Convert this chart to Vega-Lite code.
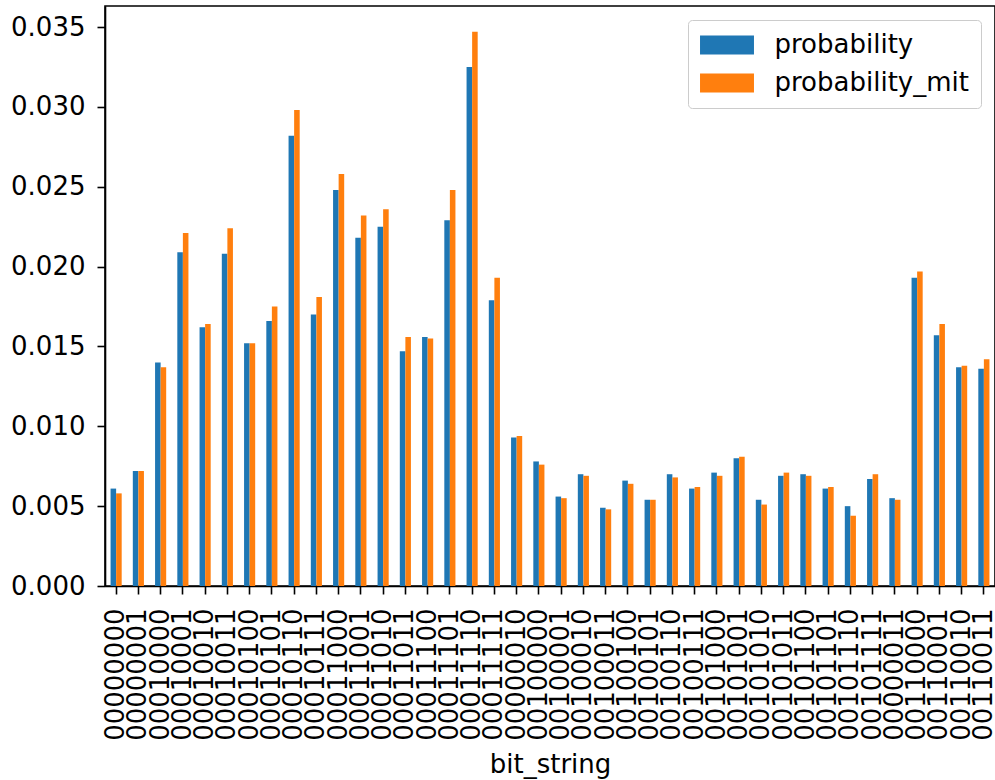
{
  "$schema": "https://vega.github.io/schema/vega-lite/v6.json",
  "autosize": "none",
  "width": 890,
  "height": 580,
  "padding": {"left": 105, "top": 6, "right": 0, "bottom": 194},
  "background": "white",
  "config": {
    "font": "DejaVu Sans",
    "view": {"stroke": "black", "strokeWidth": 1.6},
    "axis": {
      "labelFont": "DejaVu Sans",
      "labelFontSize": 26,
      "labelColor": "black",
      "titleFont": "DejaVu Sans",
      "titleFontSize": 26,
      "titleFontWeight": "normal",
      "titleColor": "black",
      "domainColor": "black",
      "domainWidth": 1.6,
      "tickColor": "black",
      "tickWidth": 1.6,
      "tickSize": 8,
      "grid": false
    }
  },
  "data": {
    "values": [
      {"bit_string": "00000000", "probability": 0.0061, "probability_mit": 0.0058},
      {"bit_string": "00000001", "probability": 0.0072, "probability_mit": 0.0072},
      {"bit_string": "00010000", "probability": 0.0140, "probability_mit": 0.0137},
      {"bit_string": "00010001", "probability": 0.0209, "probability_mit": 0.0221},
      {"bit_string": "00010010", "probability": 0.0162, "probability_mit": 0.0164},
      {"bit_string": "00010011", "probability": 0.0208, "probability_mit": 0.0224},
      {"bit_string": "00010100", "probability": 0.0152, "probability_mit": 0.0152},
      {"bit_string": "00010101", "probability": 0.0166, "probability_mit": 0.0175},
      {"bit_string": "00010110", "probability": 0.0282, "probability_mit": 0.0298},
      {"bit_string": "00010111", "probability": 0.0170, "probability_mit": 0.0181},
      {"bit_string": "00011000", "probability": 0.0248, "probability_mit": 0.0258},
      {"bit_string": "00011001", "probability": 0.0218, "probability_mit": 0.0232},
      {"bit_string": "00011010", "probability": 0.0225, "probability_mit": 0.0236},
      {"bit_string": "00011011", "probability": 0.0147, "probability_mit": 0.0156},
      {"bit_string": "00011100", "probability": 0.0156, "probability_mit": 0.0155},
      {"bit_string": "00011101", "probability": 0.0229, "probability_mit": 0.0248},
      {"bit_string": "00011110", "probability": 0.0325, "probability_mit": 0.0347},
      {"bit_string": "00011111", "probability": 0.0179, "probability_mit": 0.0193},
      {"bit_string": "00000010", "probability": 0.0093, "probability_mit": 0.0094},
      {"bit_string": "00100000", "probability": 0.0078, "probability_mit": 0.0076},
      {"bit_string": "00100001", "probability": 0.0056, "probability_mit": 0.0055},
      {"bit_string": "00100010", "probability": 0.0070, "probability_mit": 0.0069},
      {"bit_string": "00100011", "probability": 0.0049, "probability_mit": 0.0048},
      {"bit_string": "00100100", "probability": 0.0066, "probability_mit": 0.0064},
      {"bit_string": "00100101", "probability": 0.0054, "probability_mit": 0.0054},
      {"bit_string": "00100110", "probability": 0.0070, "probability_mit": 0.0068},
      {"bit_string": "00100111", "probability": 0.0061, "probability_mit": 0.0062},
      {"bit_string": "00101000", "probability": 0.0071, "probability_mit": 0.0069},
      {"bit_string": "00101001", "probability": 0.0080, "probability_mit": 0.0081},
      {"bit_string": "00101010", "probability": 0.0054, "probability_mit": 0.0051},
      {"bit_string": "00101011", "probability": 0.0069, "probability_mit": 0.0071},
      {"bit_string": "00101100", "probability": 0.0070, "probability_mit": 0.0069},
      {"bit_string": "00101101", "probability": 0.0061, "probability_mit": 0.0062},
      {"bit_string": "00101110", "probability": 0.0050, "probability_mit": 0.0044},
      {"bit_string": "00101111", "probability": 0.0067, "probability_mit": 0.0070},
      {"bit_string": "00000011", "probability": 0.0055, "probability_mit": 0.0054},
      {"bit_string": "00110000", "probability": 0.0193, "probability_mit": 0.0197},
      {"bit_string": "00110001", "probability": 0.0157, "probability_mit": 0.0164},
      {"bit_string": "00110010", "probability": 0.0137, "probability_mit": 0.0138},
      {"bit_string": "00110011", "probability": 0.0136, "probability_mit": 0.0142}
    ]
  },
  "transform": [
    {"fold": ["probability", "probability_mit"], "as": ["series", "value"]}
  ],
  "mark": {"type": "bar"},
  "encoding": {
    "x": {
      "field": "bit_string",
      "type": "nominal",
      "sort": null,
      "scale": {"paddingInner": 0.5, "paddingOuter": 0.25},
      "axis": {"labelAngle": 270, "labelPadding": 14, "titlePadding": 11, "title": "bit_string"}
    },
    "xOffset": {"field": "series", "type": "nominal", "scale": {"paddingInner": 0, "paddingOuter": 0}},
    "y": {
      "field": "value",
      "type": "quantitative",
      "scale": {"domain": [0, 0.03632], "nice": false, "zero": true},
      "axis": {"title": null, "values": [0, 0.005, 0.01, 0.015, 0.02, 0.025, 0.03, 0.035], "format": ".3f", "labelPadding": 12}
    },
    "color": {
      "field": "series",
      "type": "nominal",
      "scale": {"domain": ["probability", "probability_mit"], "range": ["#1f77b4", "#ff7f0e"]},
      "legend": {
        "title": null,
        "orient": "none",
        "legendX": 583,
        "legendY": 14,
        "symbolType": "M-2.84,-1L2.84,-1L2.84,1L-2.84,1Z",
        "symbolSize": 361,
        "symbolStrokeWidth": 0,
        "symbolOffset": 14,
        "labelOffset": 34.5,
        "labelLimit": 400,
        "labelFont": "DejaVu Sans",
        "labelFontSize": 26,
        "labelColor": "black",
        "rowPadding": 12,
        "padding": 12,
        "fillColor": "white",
        "strokeColor": "#cccccc",
        "cornerRadius": 4
      }
    }
  }
}
